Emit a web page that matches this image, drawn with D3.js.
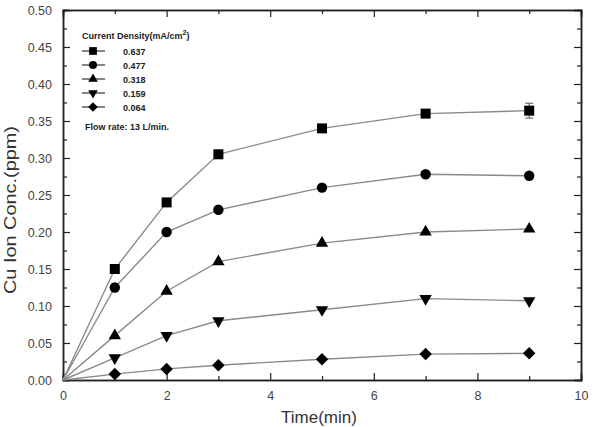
<!DOCTYPE html>
<html>
<head>
<meta charset="utf-8">
<script src="https://cdn.jsdelivr.net/npm/d3@7"></script>
<style>
body { margin: 0; background: #fff; }
text { font-family: "Liberation Sans", Arial, sans-serif; }
</style>
</head>
<body>
<svg id="chart" width="593" height="427"></svg>
<script>
// 数据
var times = [0, 1, 2, 3, 5, 7, 9];
var densityLabels = ["0.637", "0.477", "0.318", "0.159", "0.064"];
var symbolTypes = ["square", "circle", "up", "down", "diamond"];
var conc637 = [0, 0.150, 0.240, 0.305, 0.340, 0.360, 0.364];
var conc477 = [0, 0.125, 0.200, 0.230, 0.260, 0.278, 0.276];
var conc318 = [0, 0.060, 0.120, 0.160, 0.185, 0.200, 0.204];
var conc159 = [0, 0.030, 0.060, 0.080, 0.095, 0.110, 0.107];
var conc064 = [0, 0.008, 0.015, 0.020, 0.028, 0.035, 0.036];
var allSeries = [conc637, conc477, conc318, conc159, conc064];
var errLast = 0.010; // 0.637 最后一点的误差棒
var xTicks = [0, 2, 4, 6, 8, 10];
var yTicks = [0, 0.05, 0.10, 0.15, 0.20, 0.25, 0.30, 0.35, 0.40, 0.45, 0.50];

var svg = d3.select("#chart");
var pLeft = 63, pRight = 581, pTop = 10, pBottom = 380;

var x = d3.scaleLinear().domain([0, 10]).range([pLeft, pRight]);
var y = d3.scaleLinear().domain([0, 0.5]).range([pBottom, pTop]);

// 绘制坐标轴（刻度朝内）
function drawAxes() {
    var g = svg.append("g").attr("id", "axes");

    var xMinor = d3.range(1, 10, 2);
    var yMinor = d3.range(0.025, 0.5, 0.05);

    g.append("g").attr("transform", "translate(0," + pBottom + ")")
        .call(d3.axisBottom(x).tickValues(xTicks).tickSize(-7).tickPadding(11).tickFormat(d3.format("d")));
    g.append("g").attr("transform", "translate(0," + pBottom + ")")
        .call(d3.axisBottom(x).tickValues(xMinor).tickSize(-4).tickFormat(""));
    g.append("g").attr("transform", "translate(0," + pTop + ")")
        .call(d3.axisTop(x).tickValues(xTicks).tickSize(-7).tickFormat(""));
    g.append("g").attr("transform", "translate(0," + pTop + ")")
        .call(d3.axisTop(x).tickValues(xMinor).tickSize(-4).tickFormat(""));

    g.append("g").attr("transform", "translate(" + pLeft + ",0)")
        .call(d3.axisLeft(y).tickValues(yTicks).tickSize(-7).tickPadding(11).tickFormat(d3.format(".2f")));
    g.append("g").attr("transform", "translate(" + pLeft + ",0)")
        .call(d3.axisLeft(y).tickValues(yMinor).tickSize(-4).tickFormat(""));
    g.append("g").attr("transform", "translate(" + pRight + ",0)")
        .call(d3.axisRight(y).tickValues(yTicks).tickSize(-7).tickFormat(""));
    g.append("g").attr("transform", "translate(" + pRight + ",0)")
        .call(d3.axisRight(y).tickValues(yMinor).tickSize(-4).tickFormat(""));

    g.selectAll(".domain").attr("stroke", "#222").attr("stroke-width", 1.5);
    g.selectAll(".tick line").attr("stroke", "#222").attr("stroke-width", 1.2);
    g.selectAll(".tick text").attr("font-size", 12.5).attr("fill", "#444");

    svg.append("text")
        .attr("x", 319)
        .attr("y", 423)
        .attr("text-anchor", "middle")
        .attr("font-size", 17)
        .attr("fill", "#333")
        .text("Time(min)");

    svg.append("text")
        .attr("transform", "translate(16,210) rotate(-90)")
        .attr("text-anchor", "middle")
        .attr("font-size", 17)
        .attr("textLength", 168)
        .attr("lengthAdjust", "spacingAndGlyphs")
        .attr("fill", "#333")
        .text("Cu Ion Conc.(ppm)");
}

// 各种符号
function symbolPath(type, scale) {
    var s = scale || 1;
    if (type === "square") return d3.symbol().type(d3.symbolSquare).size(100 * s)();
    if (type === "circle") return d3.symbol().type(d3.symbolCircle).size(85 * s)();
    if (type === "diamond") return d3.symbol().type(d3.symbolSquare).size(78 * s)();
    return d3.symbol().type(d3.symbolTriangle).size(66 * s)();
}

function symbolRotate(type) {
    if (type === "down") return " rotate(180)";
    if (type === "diamond") return " rotate(45)";
    return "";
}

// 绘制折线和点
function drawSeries() {
    var line = d3.line()
        .x(function (d, i) { return x(times[i]); })
        .y(function (d) { return y(d); });

    var g = svg.append("g").attr("id", "series");

    allSeries.forEach(function (vals, k) {
        g.append("path")
            .attr("d", line(vals))
            .attr("fill", "none")
            .attr("stroke", "#8a8a8a")
            .attr("stroke-width", 1.4);
    });

    // 误差棒
    var xe = x(times[6]), y1 = y(conc637[6] - errLast), y2 = y(conc637[6] + errLast);
    g.append("line").attr("x1", xe).attr("x2", xe).attr("y1", y1).attr("y2", y2)
        .attr("stroke", "#555").attr("stroke-width", 1);
    [y1, y2].forEach(function (yy) {
        g.append("line").attr("x1", xe - 4).attr("x2", xe + 4).attr("y1", yy).attr("y2", yy)
            .attr("stroke", "#555").attr("stroke-width", 1);
    });

    allSeries.forEach(function (vals, k) {
        var type = symbolTypes[k];
        g.selectAll(".pt" + k)
            .data(vals.slice(1))
            .enter()
            .append("path")
            .attr("d", symbolPath(type))
            .attr("transform", function (d, i) {
                return "translate(" + x(times[i + 1]) + "," + y(d) + ")" + symbolRotate(type);
            })
            .attr("fill", "#000");
    });
}

// 图例
function drawLegend() {
    var g = svg.append("g").attr("id", "legend");
    var title = g.append("text")
        .attr("x", 82)
        .attr("y", 39)
        .attr("font-size", 9)
        .attr("font-weight", "bold")
        .attr("fill", "#222");
    title.append("tspan").text("Current Density(mA/cm");
    title.append("tspan").attr("dy", -4).attr("font-size", 7).text("2");
    title.append("tspan").attr("dy", 4).text(")");

    densityLabels.forEach(function (lab, k) {
        var yy = 51 + k * 14;
        var type = symbolTypes[k];
        g.append("line").attr("x1", 82).attr("x2", 105).attr("y1", yy).attr("y2", yy)
            .attr("stroke", "#333").attr("stroke-width", 1.2);
        g.append("path")
            .attr("d", symbolPath(type, 0.6))
            .attr("transform", "translate(93," + yy + ")" + symbolRotate(type))
            .attr("fill", "#000");
        g.append("text")
            .attr("x", 123)
            .attr("y", yy + 3.5)
            .attr("font-size", 9)
            .attr("font-weight", "bold")
            .attr("fill", "#222")
            .text(lab);
    });

    g.append("text")
        .attr("x", 85)
        .attr("y", 130)
        .attr("font-size", 9)
        .attr("font-weight", "bold")
        .attr("fill", "#222")
        .text("Flow rate: 13 L/min.");
}

drawAxes();
drawSeries();
drawLegend();
</script>
</body>
</html>
